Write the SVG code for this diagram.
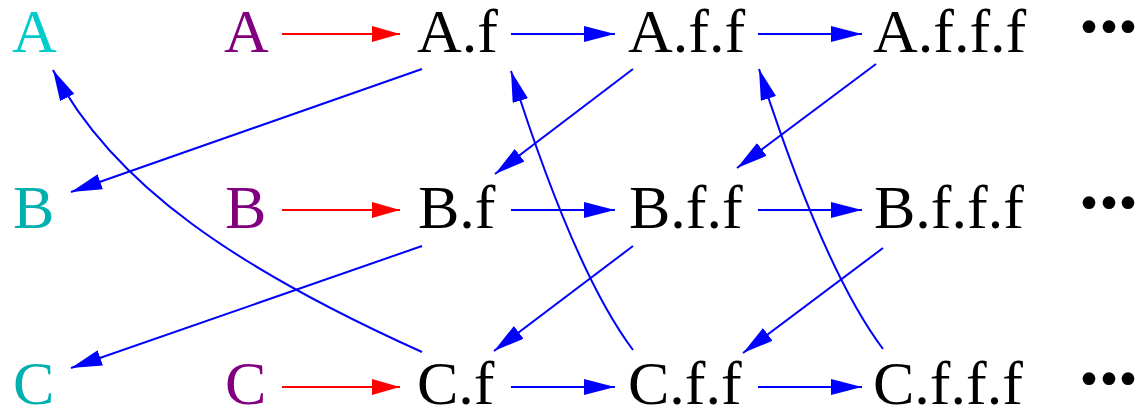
<svg xmlns="http://www.w3.org/2000/svg" width="1140" height="409" viewBox="0 0 1140 409">
<style>
text{font-family:"Liberation Serif","Times New Roman",serif;font-size:62px;fill:#000}
.src1{fill:#00cccc}
.src{fill:#00b0b0}
.mid{fill:#800080}
.dots{font-size:108px}
.b{fill:none;stroke:#0000ff;stroke-width:2;marker-end:url(#ab)}
.r{fill:none;stroke:#ff0000;stroke-width:2;marker-end:url(#ar)}
</style>
<defs>
<marker id="ab" markerUnits="userSpaceOnUse" markerWidth="32" markerHeight="16" refX="31" refY="8" orient="auto" viewBox="0 0 32 16">
<path d="M0,0 L31,8 L0,16 z" fill="#0000ff"/>
</marker>
<marker id="ar" markerUnits="userSpaceOnUse" markerWidth="29" markerHeight="16" refX="28" refY="8" orient="auto" viewBox="0 0 29 16">
<path d="M0,0 L28,8 L0,16 z" fill="#ff0000"/>
</marker>
</defs>
<g id="connectors">
<path class="r" d="M282,34 L400,34"/>
<path class="r" d="M282,210 L400,210"/>
<path class="r" d="M282,387 L400,387"/>
<path class="b" d="M511,34 L615,34"/>
<path class="b" d="M758,34 L862,34"/>
<path class="b" d="M511,210 L615,210"/>
<path class="b" d="M758,210 L862,210"/>
<path class="b" d="M511,387 L615,387"/>
<path class="b" d="M758,387 L862,387"/>
<path class="b" d="M422,69 L71,192"/>
<path class="b" d="M422,246 L71,368"/>
<path class="b" d="M633,69 L495,174"/>
<path class="b" d="M633,246 L494,351"/>
<path class="b" d="M876,64 L737,168"/>
<path class="b" d="M883,248 L743,353"/>
<path class="b" d="M422,352 C240,270 113,186 53,70"/>
<path class="b" d="M633,350 C597,302 556,213.5 511,71"/>
<path class="b" d="M883,349 C847,301 805,212 759,69"/>
</g>
<g id="A0"><text class="src1" x="12" y="52">A</text></g>
<g id="B0"><text class="src" x="13" y="228">B</text></g>
<g id="C0"><text class="src" x="13" y="404">C</text></g>
<g id="A"><text class="mid" x="224" y="52">A</text></g>
<g id="B"><text class="mid" x="225" y="228">B</text></g>
<g id="C"><text class="mid" x="225" y="404">C</text></g>
<g id="Af"><text x="417" y="52">A.f</text></g>
<g id="Aff"><text x="628" y="52">A.f.f</text></g>
<g id="Afff"><text x="873" y="52">A.f.f.f</text></g>
<g id="Bf"><text x="418" y="228">B.f</text></g>
<g id="Bff"><text x="629" y="228">B.f.f</text></g>
<g id="Bfff"><text x="874" y="228">B.f.f.f</text></g>
<g id="Cf"><text x="417" y="404">C.f</text></g>
<g id="Cff"><text x="628" y="404">C.f.f</text></g>
<g id="Cfff"><text x="873" y="404">C.f.f.f</text></g>
<g id="dotsA"><text class="dots" x="1071 1091 1110" y="62">···</text></g>
<g id="dotsB"><text class="dots" x="1071 1091 1110" y="238">···</text></g>
<g id="dotsC"><text class="dots" x="1071 1091 1110" y="414">···</text></g>
</svg>
